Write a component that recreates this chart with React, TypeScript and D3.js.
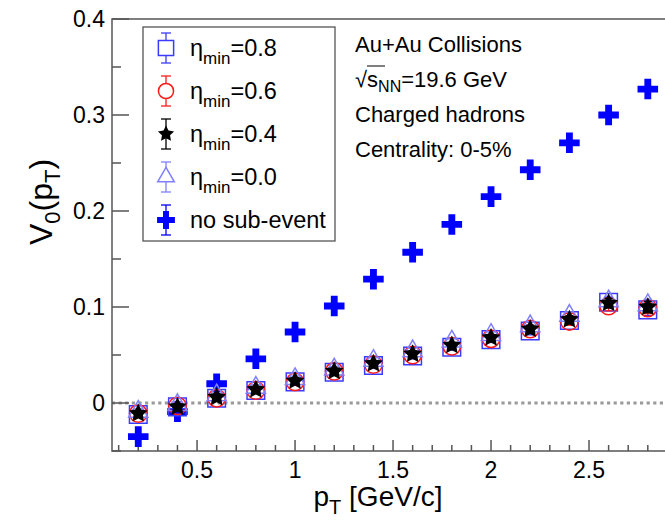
import React, { useEffect, useRef } from 'react';
import * as d3 from 'd3';

const pT = [0.2, 0.4, 0.6, 0.8, 1.0, 1.2, 1.4, 1.6, 1.8, 2.0, 2.2, 2.4, 2.6, 2.8];

// no sub-event
const v0NoSub = [-0.035, -0.009, 0.020, 0.046, 0.074, 0.101, 0.129, 0.157, 0.186, 0.215, 0.243, 0.271, 0.300, 0.327];
const errNoSub = [0.002, 0.002, 0.002, 0.002, 0.002, 0.002, 0.002, 0.002, 0.002, 0.002, 0.002, 0.002, 0.002, 0.002];

// eta_min = 0.8 / 0.6 / 0.4 / 0.0
const v0Eta08 = [-0.012, -0.004, 0.005, 0.013, 0.022, 0.032, 0.039, 0.049, 0.058, 0.066, 0.075, 0.086, 0.105, 0.097];
const v0Eta06 = [-0.011, -0.003, 0.005, 0.013, 0.022, 0.033, 0.040, 0.050, 0.059, 0.067, 0.077, 0.085, 0.101, 0.099];
const v0Eta04 = [-0.011, -0.004, 0.006, 0.014, 0.023, 0.033, 0.041, 0.051, 0.060, 0.068, 0.077, 0.087, 0.104, 0.100];
const v0Eta00 = [-0.009, -0.002, 0.008, 0.016, 0.025, 0.035, 0.044, 0.054, 0.064, 0.071, 0.080, 0.091, 0.106, 0.102];
const errEta = [0.003, 0.003, 0.003, 0.003, 0.003, 0.003, 0.003, 0.003, 0.003, 0.003, 0.004, 0.004, 0.005, 0.006];

const legendValues = ['0.8', '0.6', '0.4', '0.0'];
const infoLines = ['Au+Au Collisions', 'Charged hadrons', 'Centrality: 0-5%'];

const W = 665;
const H = 520;
const FONT = "'Liberation Sans', Arial, Helvetica, sans-serif";

// fat five-point star (ROOT style)
const fatStar = {
  draw(ctx: any, size: number) {
    const R = Math.sqrt(size) * 0.62;
    const r = R * 0.5;
    for (let i = 0; i < 10; i++) {
      const rad = i % 2 === 0 ? R : r;
      const a = (Math.PI / 5) * i - Math.PI / 2;
      const px = Math.cos(a) * rad;
      const py = Math.sin(a) * rad;
      if (i === 0) ctx.moveTo(px, py);
      else ctx.lineTo(px, py);
    }
    ctx.closePath();
  },
};

const App = () => {
  const ref = useRef<SVGSVGElement>(null);

  useEffect(() => {
    const svg = d3.select(ref.current);
    svg.selectAll('*').remove();

    const x = d3.scaleLinear().domain([0.066, 3.0]).range([112, 687]);
    const y = d3.scaleLinear().domain([-0.05, 0.4]).range([451, 19]);
    const [xl, xr] = x.range();
    const [yb, yt] = y.range();
    const axisColor = '#555';

    // zero line
    svg.append('line')
      .attr('x1', xl).attr('x2', W)
      .attr('y1', y(0)).attr('y2', y(0))
      .attr('stroke', '#9a9a9a').attr('stroke-width', 3)
      .attr('stroke-dasharray', '3.2 3.4');

    // frame
    svg.append('rect')
      .attr('x', xl).attr('y', yt)
      .attr('width', xr - xl).attr('height', yb - yt)
      .attr('fill', 'none').attr('stroke', axisColor).attr('stroke-width', 1.5);

    const isMajor = (d: number, per: number) => Math.abs(d * per - Math.round(d * per)) < 1e-6;

    // y ticks
    const gy = svg.append('g');
    y.ticks(9).forEach((d) => {
      const major = isMajor(d, 10);
      gy.append('line')
        .attr('x1', xl).attr('x2', xl + (major ? 17 : 9))
        .attr('y1', y(d)).attr('y2', y(d))
        .attr('stroke', axisColor).attr('stroke-width', 1.5);
      if (major) {
        gy.append('text')
          .attr('x', xl - 7).attr('y', y(d)).attr('dy', '0.36em')
          .attr('text-anchor', 'end')
          .attr('font-family', FONT).attr('font-size', 23)
          .text(d3.format('~g')(+d.toFixed(2)));
      }
    });

    // x ticks
    const gx = svg.append('g');
    x.ticks(30).forEach((d) => {
      const major = isMajor(d, 2);
      gx.append('line')
        .attr('x1', x(d)).attr('x2', x(d))
        .attr('y1', yb).attr('y2', yb - (major ? 11 : 6))
        .attr('stroke', axisColor).attr('stroke-width', 1.5);
      if (major && x(d) < W - 20) {
        gx.append('text')
          .attr('x', x(d)).attr('y', yb + 27)
          .attr('text-anchor', 'middle')
          .attr('font-family', FONT).attr('font-size', 23)
          .text(d3.format('~g')(+d.toFixed(2)));
      }
    });

    // axis titles
    const xt = svg.append('text')
      .attr('x', 378).attr('y', 506)
      .attr('text-anchor', 'middle')
      .attr('font-family', FONT).attr('font-size', 28);
    xt.append('tspan').text('p');
    xt.append('tspan').attr('dy', 8).attr('font-size', 20).text('T');
    xt.append('tspan').attr('dy', -8).text(' [GeV/c]');

    const yt2 = svg.append('text')
      .attr('transform', 'translate(52,202) rotate(-90)')
      .attr('text-anchor', 'middle')
      .attr('font-family', FONT).attr('font-size', 32);
    yt2.append('tspan').text('V');
    yt2.append('tspan').attr('dy', 8).attr('font-size', 22).text('0');
    yt2.append('tspan').attr('dy', -8).text('(p');
    yt2.append('tspan').attr('dy', 8).attr('font-size', 22).text('T');
    yt2.append('tspan').attr('dy', -8).text(')');

    // error bars
    const drawErr = (g: any, cx: number, cy: number, lo: number, hi: number, color: string, cap: number) => {
      g.append('line').attr('x1', cx).attr('x2', cx).attr('y1', lo).attr('y2', hi)
        .attr('stroke', color).attr('stroke-width', 1.3);
      g.append('line').attr('x1', cx - cap).attr('x2', cx + cap).attr('y1', lo).attr('y2', lo)
        .attr('stroke', color).attr('stroke-width', 1.3);
      g.append('line').attr('x1', cx - cap).attr('x2', cx + cap).attr('y1', hi).attr('y2', hi)
        .attr('stroke', color).attr('stroke-width', 1.3);
    };

    const series = [
      { vals: v0NoSub, errs: errNoSub, type: d3.symbolCross, size: 235, fill: '#0000ff', stroke: 'none', ec: '#0000ff' },
      { vals: v0Eta08, errs: errEta, type: d3.symbolSquare, size: 310, fill: 'none', stroke: '#3b3bff', ec: '#3b3bff' },
      { vals: v0Eta06, errs: errEta, type: d3.symbolCircle, size: 240, fill: 'none', stroke: '#ff1a1a', ec: '#ff1a1a' },
      { vals: v0Eta00, errs: errEta, type: d3.symbolTriangle, size: 160, fill: 'none', stroke: '#8080ff', ec: '#8080ff' },
      { vals: v0Eta04, errs: errEta, type: fatStar, size: 250, fill: '#000', stroke: 'none', ec: '#000' },
    ];

    const sym = d3.symbol();
    series.forEach((s) => {
      const g = svg.append('g');
      pT.forEach((p, i) => {
        drawErr(g, x(p), 0, y(s.vals[i] - s.errs[i]), y(s.vals[i] + s.errs[i]), s.ec, 4);
      });
      g.selectAll('path.m')
        .data(pT)
        .enter()
        .append('path')
        .attr('class', 'm')
        .attr('transform', (p: number, i: number) => `translate(${x(p)},${y(s.vals[i])})`)
        .attr('d', sym.type(s.type as any).size(s.size)() as string)
        .attr('fill', s.fill)
        .attr('stroke', s.stroke)
        .attr('stroke-width', 1.5);
    });

    // legend
    const lg = svg.append('g');
    lg.append('rect')
      .attr('x', 143).attr('y', 27).attr('width', 192).attr('height', 214)
      .attr('fill', 'white').attr('stroke', axisColor).attr('stroke-width', 1.3);
    const legendSeries = [series[1], series[2], series[4], series[3], series[0]];
    const ly = d3.scaleLinear().domain([0, 4]).range([48, 220]);
    legendSeries.forEach((s, i) => {
      const cy = ly(i);
      drawErr(lg, 166, cy, cy + 15, cy - 15, s.ec, 5);
      lg.append('path')
        .attr('transform', `translate(166,${cy})`)
        .attr('d', sym.type(s.type as any).size(s.size * 0.75)() as string)
        .attr('fill', s.fill === 'none' ? 'white' : s.fill)
        .attr('stroke', s.stroke)
        .attr('stroke-width', 1.5);
      const t = lg.append('text')
        .attr('x', 190).attr('y', cy + 8)
        .attr('font-family', FONT).attr('font-size', 23.5);
      if (i < 4) {
        t.append('tspan').text('η');
        t.append('tspan').attr('dy', 8).attr('font-size', 17).text('min');
        t.append('tspan').attr('dy', -8).text('=' + legendValues[i]);
      } else {
        t.append('tspan').text('no sub-event');
      }
    });

    // info text
    const ig = svg.append('g').attr('font-family', FONT).attr('font-size', 22);
    ig.append('text').attr('x', 355).attr('y', 52).text(infoLines[0]);
    const s2 = ig.append('text').attr('x', 355).attr('y', 87);
    s2.append('tspan').text('√');
    s2.append('tspan').text('s');
    s2.append('tspan').attr('dy', 5).attr('font-size', 16).text('NN');
    s2.append('tspan').attr('dy', -5).text('=19.6 GeV');
    ig.append('line')
      .attr('x1', 367).attr('x2', 385).attr('y1', 66).attr('y2', 66)
      .attr('stroke', '#000').attr('stroke-width', 1);
    ig.append('text').attr('x', 355).attr('y', 122).text(infoLines[1]);
    ig.append('text').attr('x', 355).attr('y', 157).text(infoLines[2]);
  }, []);

  return (
    <svg
      ref={ref}
      width={W}
      height={H}
      style={{ position: 'absolute', left: 0, top: 0, background: 'white' }}
    />
  );
};

export default App;
